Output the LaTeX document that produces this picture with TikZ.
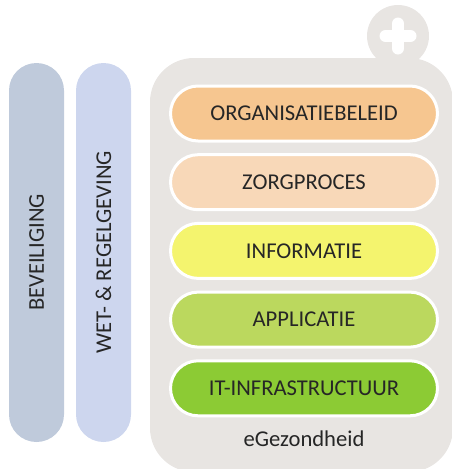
\documentclass[tikz,border=0pt]{standalone}
\usepackage{fontspec}
\setmainfont{Carlito}
\usepackage{tikz}
\usetikzlibrary{positioning,shapes.misc}
\definecolor{panelgrey}{HTML}{E8E5E2}
\definecolor{beveiligingblue}{HTML}{BFCADB}
\definecolor{wetblue}{HTML}{CDD6EE}
\definecolor{beleidorange}{HTML}{F6C690}
\definecolor{procespeach}{HTML}{F8D8B8}
\definecolor{infoyellow}{HTML}{F4F46E}
\definecolor{appgreen}{HTML}{BBD85E}
\definecolor{itgreen}{HTML}{8CCB34}
\tikzset{
  layer/.style={draw=white, line width=3pt, rounded rectangle, minimum width=267pt, minimum height=55pt, inner sep=0pt, font=\fontsize{22.6}{25}\selectfont, text=black!85},
  sidebar/.style={rounded rectangle, rotate=90, minimum width=379pt, minimum height=55pt, inner sep=0pt, font=\fontsize{22.6}{25}\selectfont, text=black!85},
}
\begin{document}
\begin{tikzpicture}[x=1pt, y=-1pt, node distance=10.7pt and 12pt]
      \useasboundingbox (0,0) rectangle (451,469);
      \node[circle, fill=panelgrey, minimum size=62pt, inner sep=0pt] (badge) at (398,36) {};
      \node[fill=panelgrey, rounded corners=44pt, minimum width=303pt, minimum height=414pt, inner sep=0pt] (panel) at (301.5,265) {};
      \coordinate (plusl) at ([xshift=-12.5pt]badge.center);
      \coordinate (plusr) at ([xshift=12.5pt]badge.center);
      \coordinate (plust) at ([yshift=12.5pt]badge.center);
      \coordinate (plusb) at ([yshift=-12.5pt]badge.center);
      \draw[white, line width=12pt, line cap=round] (plusl) -- (plusr);
      \draw[white, line width=12pt, line cap=round] (plust) -- (plusb);

      \node[layer, fill=beleidorange] (beleid) at (304,113.5) {ORGANISATIEBELEID};
      \node[layer, fill=procespeach] (proces) [below=of beleid.south, anchor=north] {ZORGPROCES};
      \node[layer, fill=infoyellow] (info) [below=of proces.south, anchor=north] {INFORMATIE};
      \node[layer, fill=appgreen] (app) [below=of info.south, anchor=north] {APPLICATIE};
      \node[layer, fill=itgreen] (it) [below=of app.south, anchor=north] {IT-INFRASTRUCTUUR};
      \node[font=\fontsize{22.6}{25}\selectfont, text=black!85] (label) at (304,439) {eGezondheid};

      \node[sidebar, fill=beveiligingblue] (beveiliging) at (36.5,252.5) {BEVEILIGING};
      \node[sidebar, fill=wetblue] (wet) at (103.5,252.5) {WET- \& REGELGEVING};
    \end{tikzpicture}
\end{document}
